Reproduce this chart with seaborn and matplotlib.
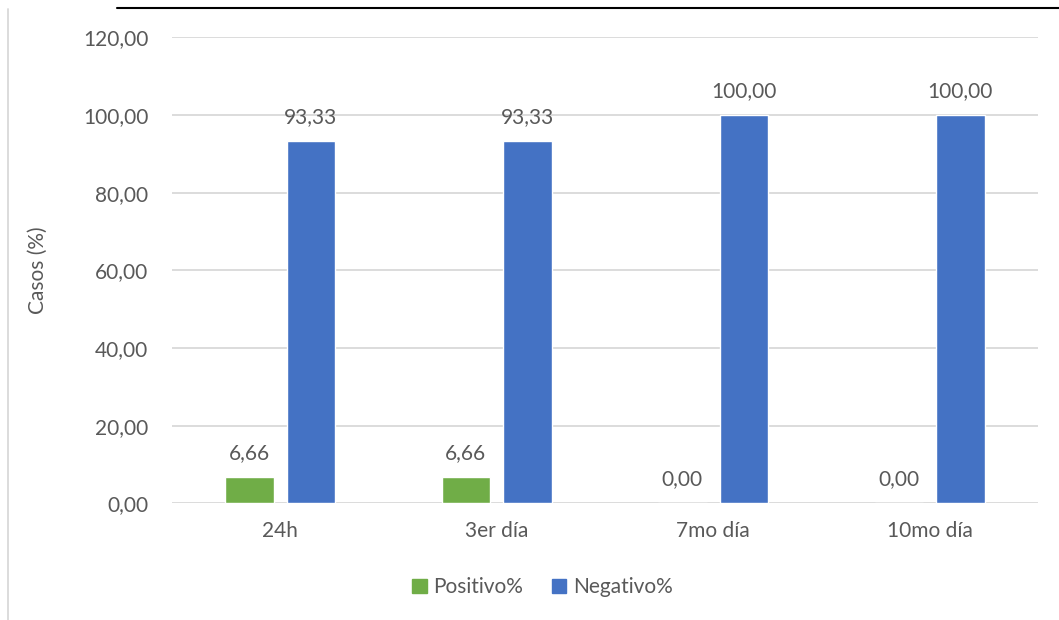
import matplotlib
matplotlib.use("Agg")
import matplotlib.pyplot as plt
from matplotlib.lines import Line2D
from matplotlib.ticker import FuncFormatter
import seaborn as sns
import pandas as pd

# Chart data
categories = ["24h", "3er día", "7mo día", "10mo día"]
series_names = ["Positivo%", "Negativo%"]
positivo = [6.66, 6.66, 0.00, 0.00]
negativo = [93.33, 93.33, 100.00, 100.00]
y_ticks = [0, 20, 40, 60, 80, 100, 120]

colors = {"Positivo%": "#70AD47", "Negativo%": "#4472C4"}
text_color = "#595959"
fs = 15

df = pd.DataFrame({
    "Momento": categories * 2,
    "Serie": [series_names[0]] * len(categories) + [series_names[1]] * len(categories),
    "Valor": positivo + negativo,
})

sns.set_theme(style="white")
plt.rcParams["font.family"] = ["Lato", "DejaVu Sans"]

fig = plt.figure(figsize=(10.59, 6.20), dpi=100)
ax = fig.add_axes([0.1624, 0.1882, 0.8176, 0.7516])

sns.barplot(data=df, x="Momento", y="Valor", hue="Serie", order=categories,
            hue_order=series_names, palette=colors, width=0.568, gap=0.21,
            saturation=1, errorbar=None, legend=True, ax=ax)

ax.set_ylim(0, 120)
ax.set_yticks(y_ticks)
ax.yaxis.set_major_formatter(FuncFormatter(lambda v, p: f"{v:.2f}".replace(".", ",")))
ax.grid(axis="y", color="#D9D9D9", linewidth=1.3)
ax.set_axisbelow(True)
for s in ax.spines.values():
    s.set_visible(False)
ax.tick_params(axis="both", length=0, labelsize=fs, labelcolor=text_color)
ax.tick_params(axis="y", pad=17)
ax.tick_params(axis="x", pad=13)
ax.set_xlabel("")
ax.set_ylabel("Casos (%)", fontsize=fs, color=text_color, labelpad=25)

# Value labels above each bar
for container in ax.containers:
    labels = [f"{b.get_height():.2f}".replace(".", ",") for b in container]
    ax.bar_label(container, labels=labels, padding=10, fontsize=fs, color=text_color)

# Legend below the plot
ax.get_legend().remove()
handles = [plt.Rectangle((0, 0), 1, 1, color=colors[n]) for n in series_names]
fig.legend(handles, series_names, loc="center", bbox_to_anchor=(0.512, 0.053),
           ncol=2, frameon=False, fontsize=fs, labelcolor=text_color,
           handlelength=0.7, handleheight=0.7, handletextpad=0.3, columnspacing=1.4)

# Chart frame fragments
fig.add_artist(Line2D([117 / 1059, 1.0], [1 - 8 / 620, 1 - 8 / 620],
                      color="black", linewidth=1.5, transform=fig.transFigure))
fig.add_artist(Line2D([8 / 1059, 8 / 1059], [0.0, 1 - 9 / 620],
                      color="#D9D9D9", linewidth=1.3, transform=fig.transFigure))

fig.savefig("out.png", dpi=100)
